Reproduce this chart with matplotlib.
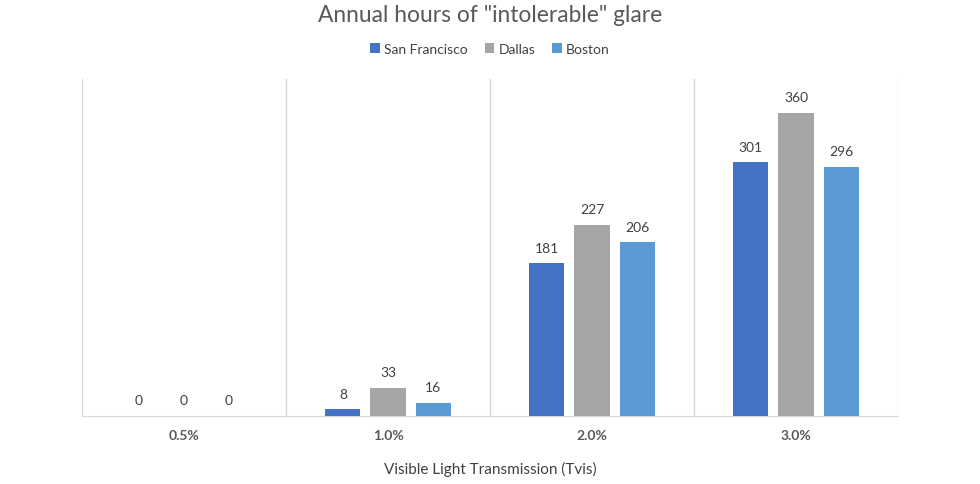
import numpy as np
import matplotlib
matplotlib.use('Agg')
import matplotlib.pyplot as plt

plt.rcParams['font.family'] = ['Lato', 'DejaVu Sans']

categorias = ['0.5%', '1.0%', '2.0%', '3.0%']
san_francisco = [0, 8, 181, 301]
dallas = [0, 33, 227, 360]
boston = [0, 16, 206, 296]

series = [('San Francisco', san_francisco, '#4472C4'),
          ('Dallas', dallas, '#A5A5A5'),
          ('Boston', boston, '#5B9BD5')]

fig = plt.figure(figsize=(9.8, 4.85), dpi=100)
ax = fig.add_axes([0.0837, 0.1402, 0.8326, 0.695])

x = np.arange(len(categorias))
largura = 0.172
passo = 0.221

for i, (nome, valores, cor) in enumerate(series):
    pos = x + (i - 1) * passo
    barras = ax.bar(pos, valores, largura, color=cor, label=nome, zorder=3)
    for b, v in zip(barras, valores):
        ax.annotate(str(v), (b.get_x() + b.get_width() / 2, v),
                    xytext=(0, 7), textcoords='offset points',
                    ha='center', va='bottom', fontsize=10, color='#404040')

ax.set_xlim(-0.5, 3.5)
ax.set_ylim(0, 400)
for xv in np.arange(-0.5, 3.6, 1):
    ax.axvline(xv, color='#D9D9D9', lw=1, zorder=1)

for s in ['top', 'right', 'left']:
    ax.spines[s].set_visible(False)
ax.spines['bottom'].set_color('#D9D9D9')
ax.set_yticks([])
ax.set_xticks(x)
ax.set_xticklabels(categorias, fontsize=10, fontweight='bold', color='#595959')
ax.tick_params(axis='x', length=0, pad=9)
ax.set_xlabel('Visible Light Transmission (Tvis)', fontsize=11, color='#404040', labelpad=15)

fig.text(0.5, 0.968, 'Annual hours of "intolerable" glare', ha='center', va='center',
         fontsize=16.4, color='#595959')
fig.legend(loc='center', bbox_to_anchor=(0.5, 0.897), ncol=3, frameon=False,
           fontsize=10, handlelength=0.7, handleheight=0.7, handletextpad=0.3,
           columnspacing=1.2, labelcolor='#404040')

fig.savefig('out.png', dpi=100)
